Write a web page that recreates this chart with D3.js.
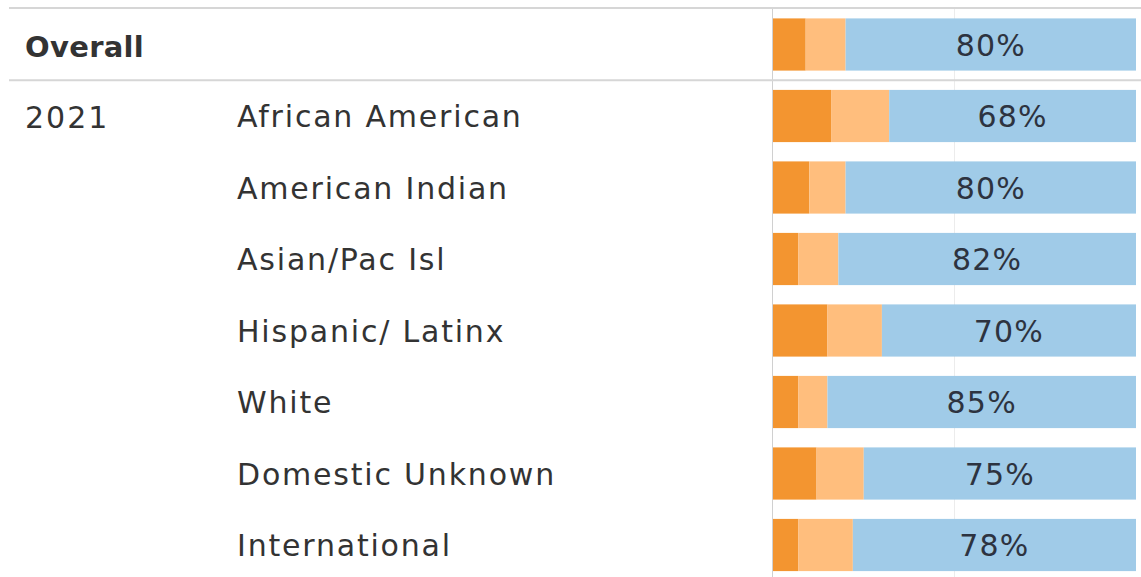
<!DOCTYPE html>
<html>
<head>
<meta charset="utf-8">
<script src="https://cdn.jsdelivr.net/npm/d3@7"></script>
<style>
  html, body { margin: 0; padding: 0; background: #fff; }
  svg { display: block; font-family: "DejaVu Sans", sans-serif; }
</style>
</head>
<body>
<div id="chart"></div>
<script>
// row labels
const groups = ["Overall", "2021", "", "", "", "", "", ""];
const categories = ["Overall", "African American", "American Indian", "Asian/Pac Isl",
                    "Hispanic/ Latinx", "White", "Domestic Unknown", "International"];

// shares in percent, stacked left to right
const darkShare  = [9, 16, 10, 7, 15, 7, 12, 7];
const lightShare = [11, 16, 10, 11, 15, 8, 13, 15];
const blueShare  = [80, 68, 80, 82, 70, 85, 75, 78];

const width = 1141, height = 577;

const rows = categories.map((c, i) => ({
    key: i, name: c, group: groups[i],
    dark: darkShare[i], light: lightShare[i], blue: blueShare[i]
}));

const svg = d3.select("#chart").append("svg")
    .attr("width", width)
    .attr("height", height);

const x = d3.scaleLinear().domain([0, 100]).range([773, 1136]);
const y = d3.scaleBand()
    .domain(rows.map(d => d.key))
    .range([8.75, 580.75])
    .paddingInner(0.27)
    .paddingOuter(0.135);

const color = d3.scaleOrdinal()
    .domain(["dark", "light", "blue"])
    .range(["#f39530", "#ffbe7d", "#a0cbe8"]);

// faint 50% gridline
svg.append("g")
    .selectAll("line")
    .data([50])
    .join("line")
    .attr("x1", d => x(d)).attr("x2", d => x(d))
    .attr("y1", 8).attr("y2", height)
    .attr("stroke", "#ececec")
    .attr("stroke-width", 1);

// stacked bars
const stack = d3.stack().keys(["dark", "light", "blue"]);
svg.append("g")
    .selectAll("g")
    .data(stack(rows))
    .join("g")
    .attr("fill", d => color(d.key))
    .selectAll("rect")
    .data(d => d)
    .join("rect")
    .attr("x", d => x(d[0]))
    .attr("width", d => x(d[1]) - x(d[0]))
    .attr("y", d => y(d.data.key))
    .attr("height", y.bandwidth());

// axis line at the left edge of bars
svg.append("line")
    .attr("x1", 772.5).attr("x2", 772.5)
    .attr("y1", 8).attr("y2", height)
    .attr("stroke", "#d0d0d0")
    .attr("stroke-width", 1);

// row separators: top, and under Overall
const sepY = [8, (y(0) + y.bandwidth() + y(1)) / 2];
svg.append("g")
    .selectAll("line")
    .data(sepY)
    .join("line")
    .attr("x1", 9).attr("x2", width)
    .attr("y1", d => d).attr("y2", d => d)
    .attr("stroke", "#d6d6d6")
    .attr("stroke-width", 2);

const mid = d => y(d.key) + y.bandwidth() / 2;

// group labels (Overall / year)
svg.append("g")
    .selectAll("text")
    .data(rows.filter(d => d.group))
    .join("text")
    .attr("x", 25)
    .attr("y", d => mid(d) + 12)
    .attr("fill", "#333")
    .attr("font-size", d => d.key === 0 ? 29 : 30)
    .attr("letter-spacing", d => d.key === 0 ? 0.3 : 2)
    .attr("font-weight", d => d.key === 0 ? "bold" : "normal")
    .text(d => d.group);

// category labels
svg.append("g")
    .selectAll("text")
    .data(rows.filter(d => d.key > 0))
    .join("text")
    .attr("x", 237)
    .attr("y", d => mid(d) + 11)
    .attr("fill", "#333")
    .attr("font-size", 30)
    .attr("letter-spacing", 1.8)
    .text(d => d.name);

// value labels centred on the blue part
svg.append("g")
    .selectAll("text")
    .data(rows)
    .join("text")
    .attr("x", d => (x(d.dark + d.light) + x(100)) / 2)
    .attr("y", d => mid(d) + 11)
    .attr("text-anchor", "middle")
    .attr("fill", "#2d3340")
    .attr("font-size", 30)
    .attr("letter-spacing", 1.2)
    .text(d => d.blue + "%");
</script>
</body>
</html>
